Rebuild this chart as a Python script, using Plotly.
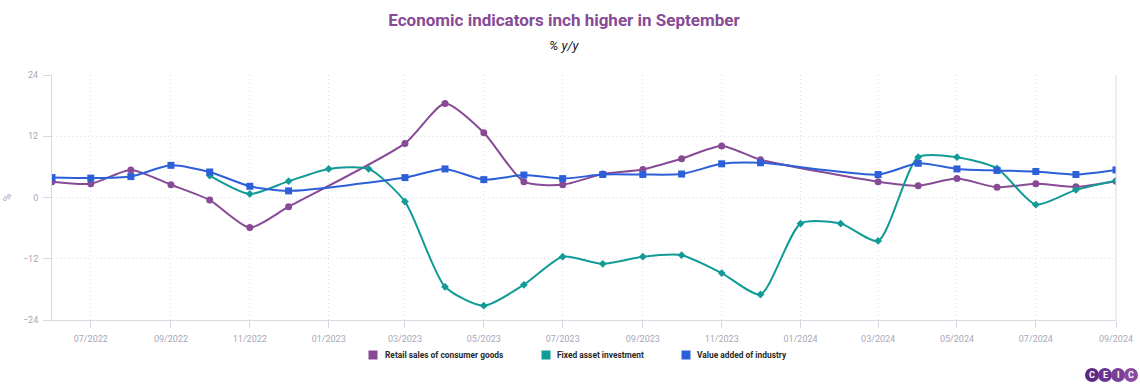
import plotly.graph_objects as go

months = ["2022-06","2022-07","2022-08","2022-09","2022-10","2022-11","2022-12",
          "2023-01","2023-02","2023-03","2023-04","2023-05","2023-06","2023-07",
          "2023-08","2023-09","2023-10","2023-11","2023-12","2024-01","2024-02",
          "2024-03","2024-04","2024-05","2024-06","2024-07","2024-08","2024-09"]
dates = [m + "-01" for m in months]

retail = [3.1, 2.7, 5.4, 2.5, -0.5, -5.9, -1.8, None, None, 10.6, 18.4, 12.7, 3.1, 2.5,
          4.6, 5.5, 7.6, 10.1, 7.4, None, None, 3.1, 2.3, 3.7, 2.0, 2.7, 2.1, 3.2]
fai = [None, None, None, None, 4.3, 0.7, 3.2, 5.6, 5.6, -0.8, -17.5, -21.2, -17.1, -11.6,
       -13.0, -11.6, -11.3, -14.8, -19.0, -5.1, -5.1, -8.5, 7.9, 7.9, 5.7, -1.4, 1.5, 3.3]
industry = [3.9, 3.8, 4.1, 6.3, 5.0, 2.2, 1.3, None, None, 3.9, 5.6, 3.5, 4.4, 3.7,
            4.5, 4.5, 4.6, 6.6, 6.8, None, None, 4.5, 6.7, 5.6, 5.3, 5.1, 4.5, 5.4]

names = ["Retail sales of consumer goods", "Fixed asset investment", "Value added of industry"]
colors = ["#874b96", "#119b97", "#2c5fd8"]
symbols = ["circle", "diamond", "square"]
sizes = [7, 6, 7]
series = [retail, fai, industry]

W, H = 1140, 390
L, R, T, B = 52, 24, 75, 70
PW, PH = W - L - R, H - T - B

def px(x):
    return (x - L) / PW

def py(y):
    return (H - B - y) / PH

fig = go.Figure()
for name, vals, col, sym, sz in zip(names, series, colors, symbols, sizes):
    fig.add_trace(go.Scatter(
        x=dates, y=vals, mode="lines+markers", name=name, showlegend=False,
        connectgaps=True,
        line=dict(color=col, width=2, shape="spline", smoothing=0.65),
        marker=dict(color=col, symbol=sym, size=sz),
        hoverinfo="x+y+name"))

tickvals = [d for d in dates if int(d[5:7]) % 2 == 1]
grid_col = "#dedee6"
line_col = "#d8d8e2"
tick_font = dict(size=9, color="#a8a8b8", family="Roboto")

fig.update_layout(
    width=W, height=H,
    margin=dict(l=L, r=R, t=T, b=B),
    paper_bgcolor="white", plot_bgcolor="white",
    font=dict(family="Roboto, sans-serif", color="#a8a8b8", size=9),
    title=dict(text="<b>Economic indicators inch higher in September</b>",
               xref="container", x=564 / W, xanchor="center",
               yref="container", y=1 - 20 / H, yanchor="middle",
               font=dict(size=17, color="#874b96", family="Roboto")),
    xaxis=dict(type="date", range=["2022-06-01", "2024-09-01"],
               tickvals=tickvals, tickformat="%m/%Y", automargin=False,
               showgrid=True, gridcolor=grid_col, griddash="1px,3px", gridwidth=1,
               showline=True, linecolor=line_col, linewidth=1,
               ticks="outside", ticklen=7, tickcolor=line_col,
               ticklabelstandoff=3, tickfont=tick_font, zeroline=False),
    yaxis=dict(range=[-24, 24], tickvals=[-24, -12, 0, 12, 24], automargin=False,
               showgrid=True, gridcolor=grid_col, griddash="1px,3px", gridwidth=1,
               showline=True, linecolor=line_col, linewidth=1,
               zeroline=False, ticks="outside", ticklen=8, tickcolor=line_col,
               ticklabelstandoff=3,
               title=dict(text="%", font=dict(size=10, color="#a8a8b8"), standoff=9),
               tickfont=tick_font),
    showlegend=False,
)

# right boundary line of plot area
fig.add_shape(type="line", xref="paper", yref="paper", x0=1, x1=1, y0=0, y1=1,
              line=dict(color=line_col, width=1))

fig.add_annotation(text="<i>% y/y</i>", xref="paper", yref="paper",
                   x=px(564), y=py(45), xanchor="center", yanchor="middle",
                   showarrow=False, font=dict(size=13, color="#222222"))

# legend drawn as squares + text
leg_x = [373, 546, 686]
leg_text_x = [382.5, 555, 695]
leg_y = 355
for name, col, lx, tx in zip(names, colors, leg_x, leg_text_x):
    fig.add_shape(type="rect", xref="paper", yref="paper",
                  x0=px(lx - 4.5), x1=px(lx + 4.5), y0=py(leg_y + 4.5), y1=py(leg_y - 4.5),
                  fillcolor=col, line=dict(width=0))
    fig.add_annotation(text="<b>" + name + "</b>", xref="paper", yref="paper",
                       x=px(tx), y=py(leg_y), xanchor="left", yanchor="middle",
                       showarrow=False,
                       font=dict(size=8.4, color="#2a2a2a", family="Roboto"))

# CEIC logo
logo_cols = ["#5a2a84", "#6a3490", "#7a3f98", "#8a4a9f"]
letters = ["C", "E", "I", "C"]
for i, (c, l) in enumerate(zip(logo_cols, letters)):
    cx = 1092 + i * 13
    cy = 375
    fig.add_shape(type="circle", xref="paper", yref="paper",
                  x0=px(cx - 7), x1=px(cx + 7), y0=py(cy + 7), y1=py(cy - 7),
                  fillcolor=c, line=dict(width=0))
    fig.add_annotation(text="<b>" + l + "</b>", xref="paper", yref="paper",
                       x=px(cx), y=py(cy), showarrow=False,
                       xanchor="center", yanchor="middle",
                       font=dict(size=9, color="white", family="Roboto"))

fig.write_html("out.html", config={"displayModeBar": False},
               post_script="document.body.style.margin='0';document.body.style.overflow='hidden';")
